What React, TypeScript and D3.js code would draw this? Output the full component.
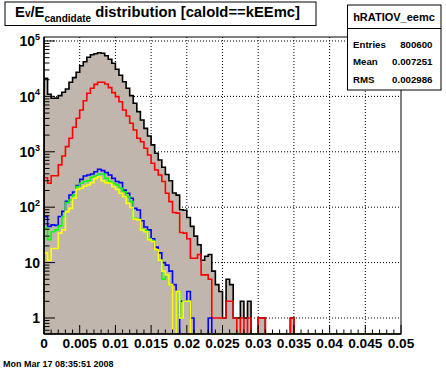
import React from 'react';
import * as d3 from 'd3';

// histogram range: 100 bins from 0 to 0.05
const xMin = 0;
const xMax = 0.05;

// bin contents (bins 0..99)
const allCandidates = [
  21200, 10900, 9240, 9300, 10300, 11900, 13600, 18000, 21800, 27200,
  35800, 42300, 50800, 56600, 59000, 61500, 60000, 54300, 46700, 39600,
  30800, 24000, 18400, 14000, 10300, 7500, 5300, 3750, 2650, 1930,
  1330, 940, 711, 525, 390, 300, 180, 165, 90, 88,
  65, 45, 30, 21, 11, 13, 14, 7, 4, 3,
  1, 5, 4, 1, 1, 2, 1, 2, 0, 0,
  1, 1, 0, 0, 0, 0, 0, 0, 0, 1,
  0, 0, 0, 0, 0, 0, 0, 0, 0, 0,
  0, 0, 0, 0, 0, 0, 0, 0, 0, 0,
  0, 0, 0, 0, 0, 0, 0, 0, 0, 0,
];
const redSeries = [
  340, 270, 370, 370, 580, 840, 1240, 1750, 2770, 4020,
  5680, 8360, 11400, 14000, 16500, 18000, 18000, 16700, 14400, 11700,
  9880, 8020, 5680, 4430, 3270, 2480, 1750, 1520, 1160, 875,
  620, 470, 380, 290, 178, 126, 80, 78, 35, 34,
  27, 12, 12, 14, 6, 6, 5, 1, 1, 1,
  1, 2, 2, 1, 0, 1, 0, 1, 0, 0,
  1, 1, 0, 0, 0, 0, 0, 0, 0, 1,
  0, 0, 0, 0, 0, 0, 0, 0, 0, 0,
  0, 0, 0, 0, 0, 0, 0, 0, 0, 0,
  0, 0, 0, 0, 0, 0, 0, 0, 0, 0,
];
const blueSeries = [
  67, 45, 48, 47, 68, 84, 128, 166, 188, 245,
  318, 365, 380, 398, 437, 483, 457, 420, 380, 331,
  290, 277, 204, 178, 145, 95, 89, 57, 44, 39,
  27, 19, 15, 10, 9, 7, 4, 0, 2, 2,
  3, 1, 0, 0, 0, 0, 1, 0, 0, 0,
  0, 0, 0, 0, 0, 0, 0, 0, 0, 0,
  0, 0, 0, 0, 0, 0, 0, 0, 0, 0,
  0, 0, 0, 0, 0, 0, 0, 0, 0, 0,
  0, 0, 0, 0, 0, 0, 0, 0, 0, 0,
  0, 0, 0, 0, 0, 0, 0, 0, 0, 0,
];
const greenSeries = [
  43, 26, 36, 39, 46, 68, 121, 135, 166, 235,
  270, 290, 300, 347, 365, 398, 398, 331, 290, 270,
  251, 219, 190, 155, 126, 63, 60, 40, 38, 27,
  25, 17, 11, 5, 6, 4, 0, 3, 1, 2,
  2, 0, 0, 0, 0, 0, 0, 0, 0, 0,
  0, 0, 0, 0, 0, 0, 0, 0, 0, 0,
  0, 0, 0, 0, 0, 0, 0, 0, 0, 0,
  0, 0, 0, 0, 0, 0, 0, 0, 0, 0,
  0, 0, 0, 0, 0, 0, 0, 0, 0, 0,
  0, 0, 0, 0, 0, 0, 0, 0, 0, 0,
];
const yellowSeries = [
  15, 11, 18, 18, 34, 39, 83, 95, 145, 210,
  219, 240, 251, 277, 331, 355, 300, 277, 270, 235,
  210, 178, 155, 117, 99, 61, 59, 39, 36, 26,
  24, 17, 11, 7, 6, 4, 0, 3, 1, 2,
  2, 0, 0, 0, 0, 0, 0, 0, 0, 0,
  0, 0, 0, 0, 0, 0, 0, 0, 0, 0,
  0, 0, 0, 0, 0, 0, 0, 0, 0, 0,
  0, 0, 0, 0, 0, 0, 0, 0, 0, 0,
  0, 0, 0, 0, 0, 0, 0, 0, 0, 0,
  0, 0, 0, 0, 0, 0, 0, 0, 0, 0,
];

const xTickLabels = ['0', '0.005', '0.01', '0.015', '0.02', '0.025', '0.03', '0.035', '0.04', '0.045', '0.05'];
const yDecades = [0, 1, 2, 3, 4, 5];
const statNames = ['Entries', 'Mean', 'RMS'];
const statValues = ['800600', '0.007251', '0.002986'];

const W = 446;
const H = 372;
const frame = { left: 44, right: 401, top: 37, bottom: 334 };
const yMin = 0.514;
const yMax = 118000;
const font = '"Liberation Sans", Arial, Helvetica, sans-serif';
const fillColor = '#c0b6ad';

const x = d3.scaleLinear().domain([xMin, xMax]).range([frame.left, frame.right]);
const y = d3.scaleLog().domain([yMin, yMax]).range([frame.bottom, frame.top]);

// step outline of a histogram, empty bins sit on the frame floor
const stepPoints = (values: number[]): [number, number][] => {
  const w = (xMax - xMin) / values.length;
  const pts: [number, number][] = [[x(xMin), frame.bottom]];
  values.forEach((v, i) => {
    const yy = v > 0 ? y(Math.max(v, yMin)) : frame.bottom;
    pts.push([x(xMin + i * w), yy], [x(xMin + (i + 1) * w), yy]);
  });
  pts.push([x(xMax), frame.bottom]);
  return pts;
};

const line = d3.line();
const area = d3.area().y0(frame.bottom);

const App = () => {
  const blackPts = stepPoints(allCandidates);
  const overlays = [
    { values: redSeries, color: '#ff0000' },
    { values: blueSeries, color: '#0000ff' },
    { values: greenSeries, color: '#00ff00' },
    { values: yellowSeries, color: '#ffff00' },
  ];

  const xMajor = d3.range(0, 11).map(i => i * 0.005);
  const xMinor = d3.range(0, 51).map(i => i * 0.001);
  const yMinor: number[] = [];
  for (let d = -1; d <= 5; d++) {
    for (let k = 2; k <= 9; k++) {
      const v = k * Math.pow(10, d);
      if (v >= yMin && v <= yMax) yMinor.push(v);
    }
  }

  return (
    <svg width={W} height={H} style={{ position: 'absolute', left: 0, top: 0, background: '#fff' }}
      fontFamily={font} fontWeight="bold">
      <defs>
        <clipPath id="frameClip">
          <rect x={frame.left} y={frame.top} width={frame.right - frame.left} height={frame.bottom - frame.top} />
        </clipPath>
      </defs>
      <rect width={W} height={H} fill="#fff" />

      {/* grid */}
      <g stroke="#000" strokeWidth={1} strokeDasharray="1,2">
        {xMajor.slice(1, -1).map(v => (
          <line key={'gx' + v} x1={x(v)} x2={x(v)} y1={frame.top} y2={frame.bottom} />
        ))}
        {yDecades.map(d => (
          <line key={'gy' + d} x1={frame.left} x2={frame.right} y1={y(Math.pow(10, d))} y2={y(Math.pow(10, d))} />
        ))}
      </g>

      {/* histograms */}
      <g clipPath="url(#frameClip)">
        <path d={area(blackPts) || ''} fill={fillColor} stroke="none" />
        <path d={line(blackPts) || ''} fill="none" stroke="#000" strokeWidth={1.6} />
        {overlays.map(o => (
          <path key={o.color} d={line(stepPoints(o.values)) || ''} fill="none" stroke={o.color} strokeWidth={1.6} />
        ))}
      </g>

      {/* frame and axes */}
      <rect x={frame.left} y={frame.top} width={frame.right - frame.left} height={frame.bottom - frame.top}
        fill="none" stroke="#000" strokeWidth={1} />
      <g stroke="#000" strokeWidth={1}>
        {xMinor.map(v => {
          const major = Math.abs(v / 0.005 - Math.round(v / 0.005)) < 1e-6;
          return <line key={'tx' + v} x1={x(v)} x2={x(v)} y1={frame.bottom} y2={frame.bottom - (major ? 9 : 4.5)} />;
        })}
        {yDecades.map(d => (
          <line key={'ty' + d} x1={frame.left} x2={frame.left + 11} y1={y(Math.pow(10, d))} y2={y(Math.pow(10, d))} />
        ))}
        {yMinor.map(v => (
          <line key={'tm' + v} x1={frame.left} x2={frame.left + 5.5} y1={y(v)} y2={y(v)} />
        ))}
      </g>
      <line x1={frame.left} x2={frame.right} y1={frame.bottom} y2={frame.bottom} stroke="#000" strokeWidth={1.5} />
      <line x1={frame.left} x2={frame.left} y1={frame.top} y2={frame.bottom} stroke="#000" strokeWidth={1.5} />

      {/* x labels */}
      {xTickLabels.map((t, i) => (
        <text key={t} x={x(xMajor[i])} y={347.5} fontSize={13.7} textAnchor="middle">{t}</text>
      ))}

      {/* y labels */}
      {yDecades.map(d => {
        const ty = y(Math.pow(10, d));
        if (d === 0) return <text key={'yl' + d} x={40} y={ty + 5} fontSize={14} textAnchor="end">1</text>;
        if (d === 1) return <text key={'yl' + d} x={40} y={ty + 5} fontSize={14} textAnchor="end">10</text>;
        return (
          <text key={'yl' + d} x={40} y={ty + 5.3} fontSize={14} textAnchor="end">
            10<tspan fontSize={9} dy={-6.5}>{d}</tspan>
          </text>
        );
      })}

      {/* title box */}
      <rect x={5} y={2} width={311} height={23.5} fill="#fff" stroke="#000" strokeWidth={1} />
      <text x={15} y={17.4} fontSize={14.8}>
        E<tspan fontSize={10}>v</tspan>/E<tspan fontSize={10} dy={4.3}>candidate</tspan>
        <tspan dy={-4.3}> distribution [caloId==kEEmc]</tspan>
      </text>

      {/* stats box */}
      <rect x={347.5} y={5} width={93.5} height={85} fill="#fff" stroke="#000" strokeWidth={1} />
      <line x1={347.5} x2={441} y1={28.5} y2={28.5} stroke="#000" strokeWidth={1} />
      <text x={394} y={21} fontSize={11} textAnchor="middle">hRATIOV_eemc</text>
      {statNames.map((n, i) => (
        <g key={n}>
          <text x={353} y={47.5 + i * 17.9} fontSize={9.7}>{n}</text>
          <text x={432.5} y={47.5 + i * 17.9} fontSize={9.7} textAnchor="end">{statValues[i]}</text>
        </g>
      ))}

      {/* date stamp */}
      <text x={3} y={367} fontSize={9}>Mon Mar 17 08:35:51 2008</text>
    </svg>
  );
};

export default App;
